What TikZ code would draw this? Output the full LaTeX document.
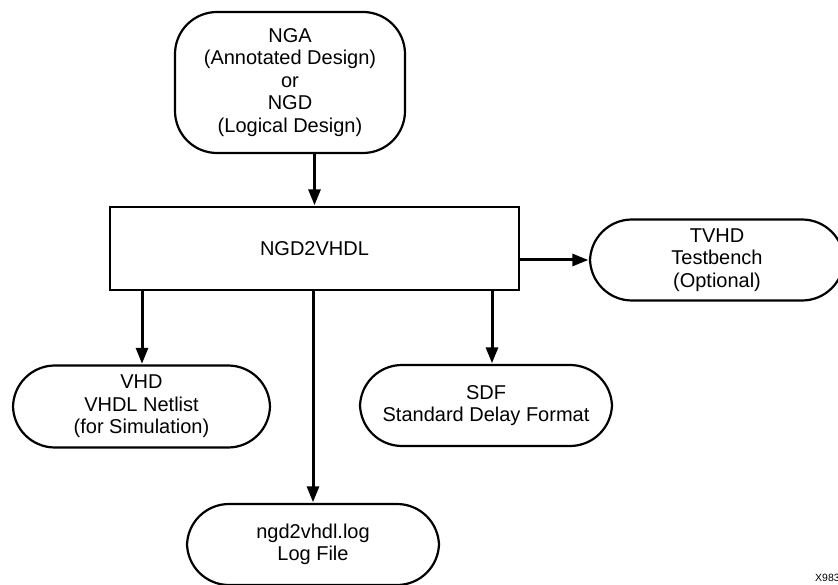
\documentclass[tikz,border=0pt]{standalone}
\usepackage{fontspec}
\setmainfont{Liberation Sans}
\usetikzlibrary{arrows.meta}
\begin{document}
\begin{tikzpicture}[x=1pt,y=-1pt,
  term/.style={draw, line width=2.2pt, rounded corners=42pt, align=center, inner sep=0pt,
    font=\fontsize{20}{22.5}\selectfont},
  procbox/.style={draw, line width=2.2pt, align=center, inner sep=0pt,
    font=\fontsize{20}{22.5}\selectfont},
  arr/.style={line width=3pt, -{Triangle[length=16pt,width=12pt]}, shorten >=0.6pt}]
\useasboundingbox (0,0) rectangle (838,585);
\begin{scope}
\clip (0,0) rectangle (838,585);
\node[term, minimum width=230pt, minimum height=141pt] (top) at (290,82.5)
  {NGA\\(Annotated Design)\\or\\NGD\\(Logical Design)};
\node[procbox, minimum width=409pt, minimum height=83pt] (ngd) at (314.5,248.5) {NGD2VHDL};
\node[term, minimum width=254pt, minimum height=81pt] (tvhd) at (717,260)
  {TVHD\\Testbench\\(Optional)};
\node[term, minimum width=257pt, minimum height=82pt] (vhd) at (141.5,406.5)
  {VHD\\VHDL Netlist\\(for Simulation)};
\node[term, minimum width=252pt, minimum height=81pt] (sdf) at (486,405.5)
  {SDF\\Standard Delay Format};
\node[term, minimum width=252pt, minimum height=81pt] (log) at (313,544.5)
  {ngd2vhdl.log\\Log File};
\node[font=\fontsize{10.5}{12}\selectfont, anchor=west, inner sep=0pt] (xid) at (815,578) {X9837};
\coordinate (vx) at (142,0);
\coordinate (sx) at (492,0);
\draw[arr] (ngd.north |- top.south) -- (ngd.north);
\draw[arr] (ngd.east |- tvhd.west) -- (tvhd.west);
\draw[arr] (vx |- ngd.south) -- (vx |- vhd.north);
\draw[arr] (sx |- ngd.south) -- (sx |- sdf.north);
\draw[arr] (log.north |- ngd.south) -- (log.north);
\end{scope}
\end{tikzpicture}
\end{document}
